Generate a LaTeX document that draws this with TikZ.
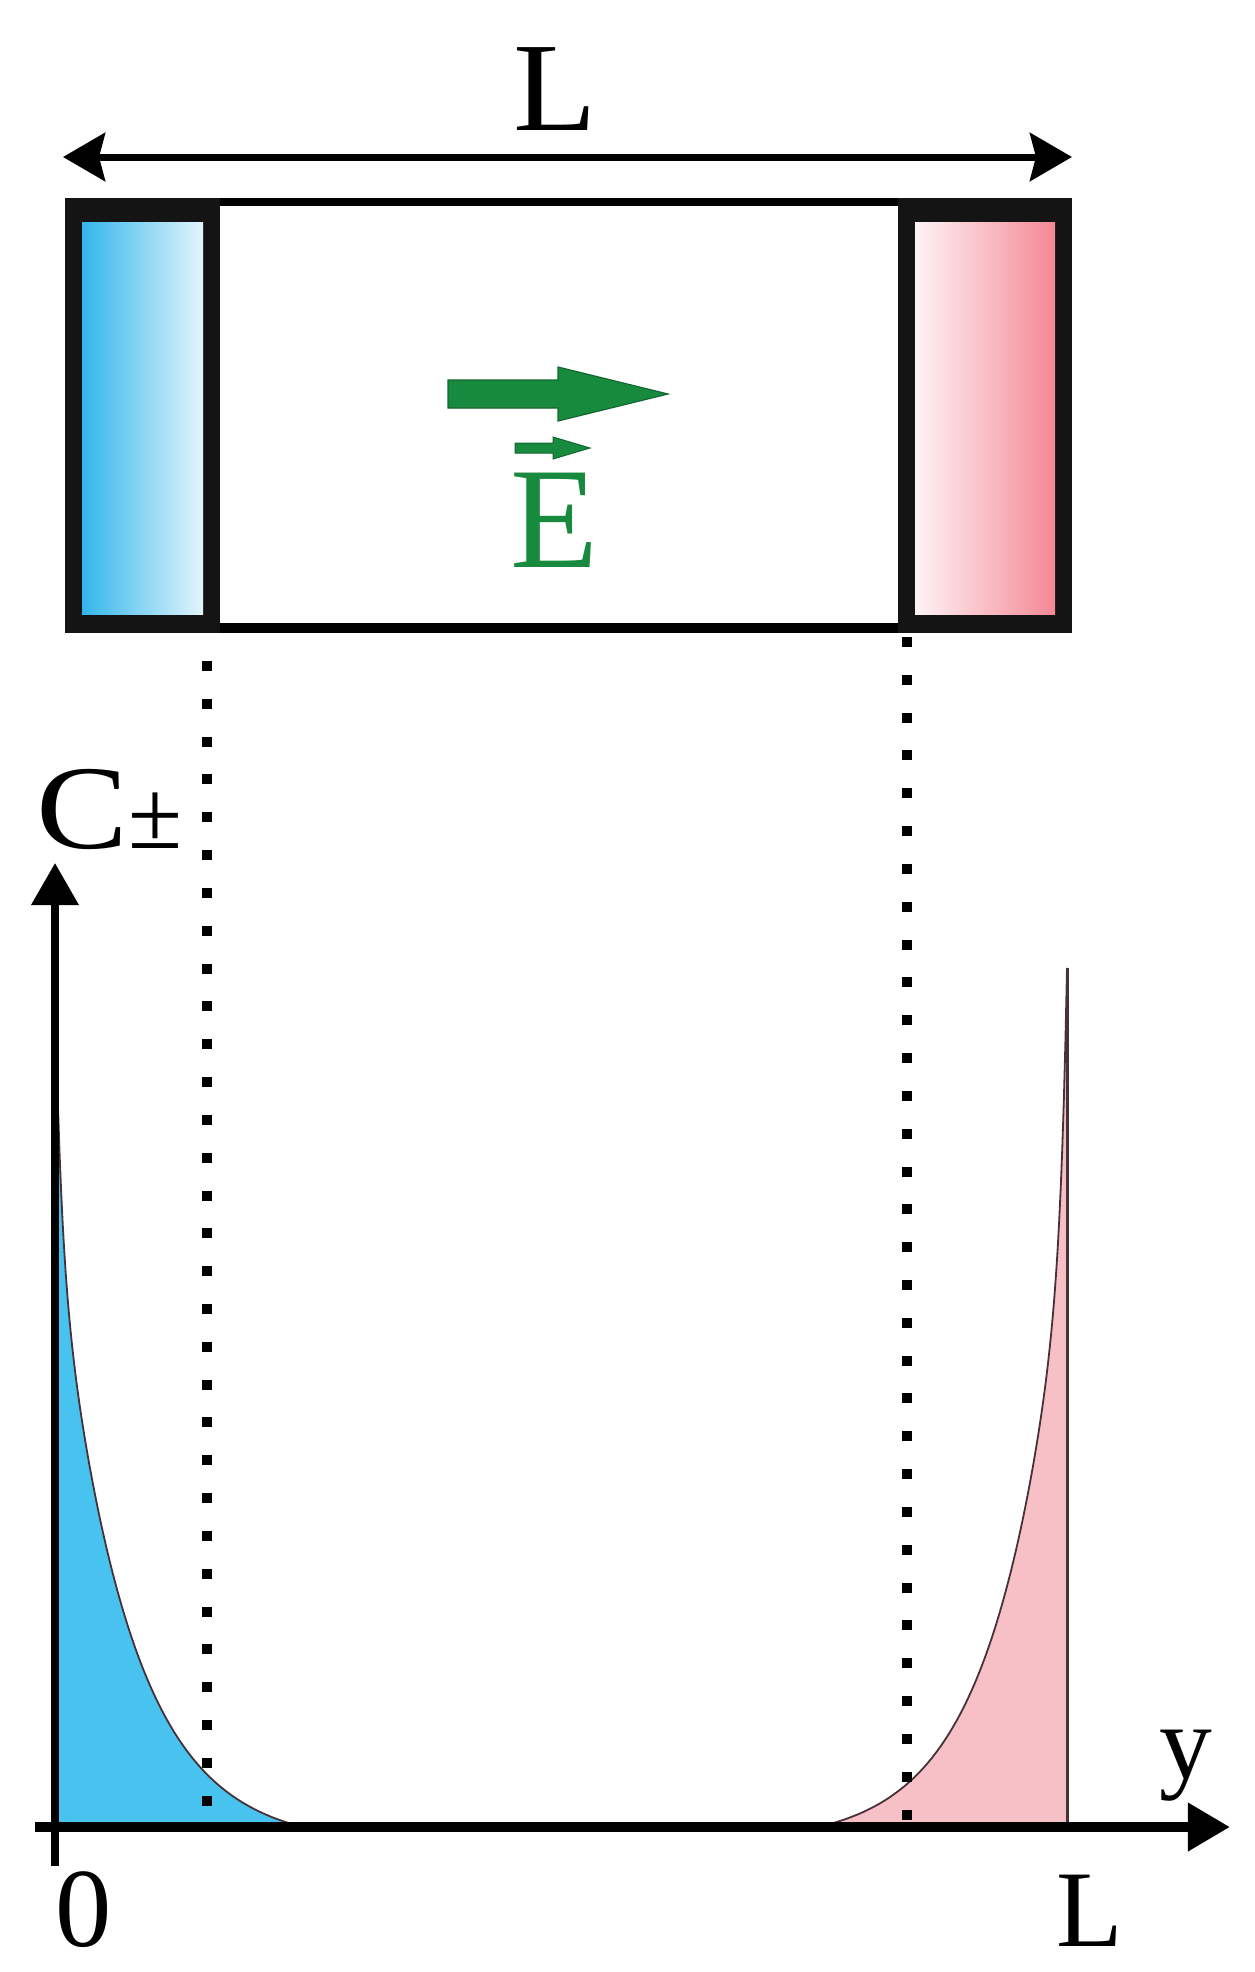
\documentclass[tikz,border=0pt]{standalone}
\usepackage{fontspec}
\usepackage{graphicx}
\setmainfont{Liberation Serif}
\usetikzlibrary{arrows.meta}
\definecolor{eblue}{RGB}{50,182,236}
\definecolor{eblueL}{RGB}{228,245,252}
\definecolor{epink}{RGB}{244,136,148}
\definecolor{epinkL}{RGB}{254,244,246}
\definecolor{cblue}{RGB}{72,194,238}
\definecolor{cpink}{RGB}{246,192,198}
\definecolor{egreen}{RGB}{24,138,62}
\definecolor{edgec}{RGB}{70,50,55}
\begin{document}
\begin{tikzpicture}[x=0.01cm,y=-0.01cm,
  lbl/.style={inner sep=0pt, anchor=base, font=\fontsize{#1}{#1}\selectfont},
  frame/.style={fill=black!92},
  dotline/.style={line width=0.1cm, dash pattern=on 0.1cm off 0.278cm},
  curveedge/.style={draw=edgec, line width=0.018cm},
  axis/.style={line width=#1, -{Triangle[length=0.42cm,width=0.46cm]}}]
\useasboundingbox (0,0) rectangle (1255,1972);

% ---- top dimension arrow and label
\node[lbl=36] (Ltop) at (555,130) {\scalebox{1.08}[1]{L}};
\coordinate (dimL) at (63,157);
\coordinate (dimR) at (1072,157);
\draw[line width=0.07cm, {Stealth[length=0.42cm,width=0.48cm,inset=0.06cm]}-{Stealth[length=0.42cm,width=0.48cm,inset=0.06cm]}] (dimL) -- (dimR);

% ---- cell box
\coordinate (topA) at (215,202);
\coordinate (topB) at (905,202);
\coordinate (botA) at (215,628);
\coordinate (botB) at (905,628);
\draw[line width=0.085cm] (topA) -- (topB);
\draw[line width=0.095cm] (botA) -- (botB);
% left electrode
\fill[frame] (65,198) rectangle (220,633);
\shade[left color=eblue, right color=eblueL] (82,222) rectangle (203,614);
% right electrode
\fill[frame] (898,198) rectangle (1072,633);
\shade[left color=epinkL, right color=epink] (915,222) rectangle (1055,614);

% ---- field arrow
\fill[egreen, draw=egreen!75!black, line width=0.012cm]
  (448,380) -- (558,380) -- (558,367) -- (668,394) -- (558,421) -- (558,408) -- (448,408) -- cycle;
\fill[egreen, draw=egreen!75!black, line width=0.01cm]
  (515,443) -- (553,443) -- (553,437) -- (590,448) -- (553,459) -- (553,453) -- (515,453) -- cycle;
\node[lbl=41, text=egreen] (E) at (555,567) {E};

% ---- concentration profiles
\fill[cblue] (55,1827) -- plot[domain=0:248, samples=160, variable=\d]
  ({55+\d}, {1827-(620*exp(-\d/70)+238*exp(-min(\d,60)/6)-18)}) -- cycle;
\draw[curveedge] plot[domain=0:248, samples=160, variable=\d]
  ({55+\d}, {1827-(620*exp(-\d/70)+238*exp(-min(\d,60)/6)-18)});

\fill[cpink] (1067,1827) -- plot[domain=0:249, samples=160, variable=\d]
  ({1067-\d}, {1827-(620*exp(-\d/68)+255*exp(-min(\d,60)/6)-15.9)}) -- cycle;
\draw[curveedge] plot[domain=0:249, samples=160, variable=\d]
  ({1067-\d}, {1827-(620*exp(-\d/68)+255*exp(-min(\d,60)/6)-15.9)});
\coordinate (pkTop) at (1067,968);
\coordinate (pkBot) at (1067,1827);
\draw[curveedge, line width=0.03cm] (pkTop) -- (pkBot);

% ---- dotted guide lines
\coordinate (dA1) at (207,661);
\coordinate (dA2) at (207,1823);
\coordinate (dB1) at (907,637);
\coordinate (dB2) at (907,1823);
\draw[dotline] (dA1) -- (dA2);
\draw[dotline] (dB1) -- (dB2);

% ---- axes
\coordinate (yBot) at (55,1866);
\coordinate (yTip) at (55,863);
\coordinate (xBeg) at (35,1827);
\coordinate (xTip) at (1230,1827);
\draw[axis=0.07cm] (yBot) -- (yTip);
\draw[axis=0.1cm] (xBeg) -- (xTip);

% ---- axis labels
\node[inner sep=0pt, anchor=base west, font=\fontsize{34}{34}\selectfont] (Cpm) at (36,848) {\scalebox{1.15}[1]{C}{\fontsize{28}{28}\selectfont ±}};
\node[lbl=30] (ylab) at (1186,1778) {y};
\node[lbl=32] (zero) at (84,1946) {0};
\node[lbl=31] (Lbot) at (1090,1946) {L};
\end{tikzpicture}
\end{document}
